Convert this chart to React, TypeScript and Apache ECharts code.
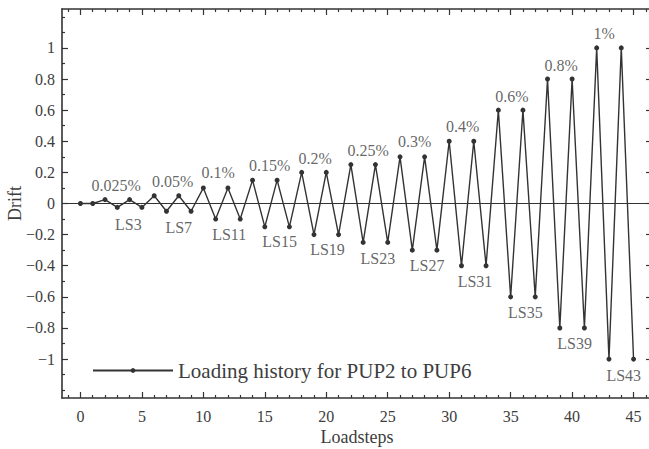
import React, { useEffect, useRef } from "react";
import * as echarts from "echarts";

const loadsteps = [
  0, 1, 2, 3, 4, 5, 6, 7, 8, 9, 10, 11, 12, 13, 14, 15, 16, 17, 18, 19, 20, 21, 22,
  23, 24, 25, 26, 27, 28, 29, 30, 31, 32, 33, 34, 35, 36, 37, 38, 39, 40, 41, 42, 43, 44, 45,
];
const drift = [
  0, 0, 0.025, -0.025, 0.025, -0.025, 0.05, -0.05, 0.05, -0.05, 0.1, -0.1, 0.1, -0.1,
  0.15, -0.15, 0.15, -0.15, 0.2, -0.2, 0.2, -0.2, 0.25, -0.25, 0.25, -0.25, 0.3, -0.3,
  0.3, -0.3, 0.4, -0.4, 0.4, -0.4, 0.6, -0.6, 0.6, -0.6, 0.8, -0.8, 0.8, -0.8, 1, -1, 1, -1,
];

const pctLabels = ["0.025%", "0.05%", "0.1%", "0.15%", "0.2%", "0.25%", "0.3%", "0.4%", "0.6%", "0.8%", "1%"];
const pctX = [2.9, 7.5, 11.2, 15.4, 19.1, 23.4, 27.2, 31.1, 35.1, 39.1, 42.6];
const pctY = [0.118, 0.139, 0.197, 0.246, 0.289, 0.343, 0.396, 0.497, 0.69, 0.889, 1.093];

const lsLabels = ["LS3", "LS7", "LS11", "LS15", "LS19", "LS23", "LS27", "LS31", "LS35", "LS39", "LS43"];
const lsX = [3.9, 8.0, 12.1, 16.2, 20.1, 24.2, 28.2, 32.1, 36.2, 40.2, 44.2];
const lsY = [-0.133, -0.154, -0.2, -0.247, -0.294, -0.353, -0.396, -0.5, -0.7, -0.9, -1.103];

const xMajor = [0, 5, 10, 15, 20, 25, 30, 35, 40, 45];
const xMinor = [
  -1, 1, 2, 3, 4, 6, 7, 8, 9, 11, 12, 13, 14, 16, 17, 18, 19, 21, 22, 23, 24, 26, 27, 28, 29,
  31, 32, 33, 34, 36, 37, 38, 39, 41, 42, 43, 44, 46,
];
const yMajor = [-1, -0.8, -0.6, -0.4, -0.2, 0, 0.2, 0.4, 0.6, 0.8, 1];
const yMinor = [-1.2, -1.1, -0.9, -0.7, -0.5, -0.3, -0.1, 0.1, 0.3, 0.5, 0.7, 0.9, 1.1, 1.2];

const seriesName = "Loading history for PUP2 to PUP6";

const FONT = "'Liberation Serif', 'Times New Roman', serif";
const LINE = "#333333";
const TEXT = "#3d3d3d";

export default function App() {
  const ref = useRef<HTMLDivElement>(null);

  useEffect(() => {
    document.body.style.margin = "0";
    if (!ref.current) return;
    const chart = echarts.init(ref.current, null, { renderer: "svg" });

    const X_MIN = -1.5;
    const X_MAX = 46.5;
    const Y_MIN = -1.25;
    const Y_MAX = 1.25;

    const gridBox = {
      left: 62,
      top: 9,
      bottom: 51,
      right: -3,
      containLabel: false,
      outerBoundsMode: "none",
    };

    const fmtY = (v: number) => {
      if (v === 0) return "0";
      const s = String(Math.abs(v));
      return (v < 0 ? "\u2212" : "") + s;
    };

    const mkX = (gridIndex: number, position: string, major: boolean, main: boolean) => ({
      type: "value",
      gridIndex,
      position,
      min: X_MIN,
      max: X_MAX,
      axisLine: { show: major, onZero: false, lineStyle: { color: LINE, width: 1.6 } },
      axisTick: {
        show: true,
        inside: true,
        length: major ? 6 : 3,
        customValues: major ? xMajor : xMinor,
        lineStyle: { color: LINE, width: 1.2 },
      },
      axisLabel: main
        ? {
            show: true,
            customValues: xMajor,
            margin: 10,
            color: TEXT,
            fontSize: 16,
            fontFamily: FONT,
          }
        : { show: false },
      splitLine: { show: false },
      name: main ? "Loadsteps" : "",
      nameLocation: "middle",
      nameGap: 30,
      nameMoveOverlap: false,
      nameTextStyle: { color: TEXT, fontSize: 18, fontFamily: FONT },
    });

    const mkY = (gridIndex: number, position: string, major: boolean, main: boolean) => ({
      type: "value",
      gridIndex,
      position,
      min: Y_MIN,
      max: Y_MAX,
      axisLine: { show: major, onZero: false, lineStyle: { color: LINE, width: 1.6 } },
      axisTick: {
        show: true,
        inside: true,
        length: major ? 6 : 3,
        customValues: major ? yMajor : yMinor,
        lineStyle: { color: LINE, width: 1.2 },
      },
      axisLabel: main
        ? {
            show: true,
            customValues: yMajor,
            margin: 7,
            color: TEXT,
            fontSize: 16,
            fontFamily: FONT,
            formatter: fmtY,
          }
        : { show: false },
      splitLine: { show: false },
      name: main ? "Drift" : "",
      nameLocation: "middle",
      nameGap: 38,
      nameMoveOverlap: false,
      nameRotate: 90,
      nameTextStyle: { color: TEXT, fontSize: 18, fontFamily: FONT },
    });

    const lineData = loadsteps.map((x, i) => [x, drift[i]]);
    const pctData = pctX.map((x, i) => [x, pctY[i], pctLabels[i]]);
    const lsData = lsX.map((x, i) => [x, lsY[i], lsLabels[i]]);

    const labelSeries = (name: string, data: any[]) => ({
      type: "scatter",
      name,
      xAxisIndex: 0,
      yAxisIndex: 0,
      data,
      symbolSize: 1,
      itemStyle: { color: "transparent" },
      silent: true,
      label: {
        show: true,
        position: "inside",
        formatter: (p: any) => p.value[2],
        color: TEXT,
        fontSize: 16,
        fontFamily: FONT,
      },
      z: 5,
    });

    chart.setOption({
      animation: false,
      backgroundColor: "#ffffff",
      textStyle: { fontFamily: FONT },
      grid: [{ ...gridBox }, { ...gridBox }],
      xAxis: [
        mkX(0, "bottom", true, true),
        mkX(0, "top", true, false),
        mkX(1, "bottom", false, false),
        mkX(1, "top", false, false),
      ],
      yAxis: [
        mkY(0, "left", true, true),
        mkY(0, "right", true, false),
        mkY(1, "left", false, false),
        mkY(1, "right", false, false),
      ],
      legend: {
        data: [seriesName],
        left: 92,
        top: 360,
        padding: 0,
        itemWidth: 80,
        itemHeight: 6,
        textStyle: { color: TEXT, fontSize: 21, fontFamily: FONT },
        lineStyle: { width: 2 },
        selectedMode: false,
      },
      series: [
        {
          type: "line",
          name: seriesName,
          xAxisIndex: 0,
          yAxisIndex: 0,
          data: lineData,
          symbol: "circle",
          symbolSize: 5,
          showSymbol: true,
          lineStyle: { color: LINE, width: 1.4 },
          itemStyle: { color: LINE },
          markLine: {
            silent: true,
            symbol: ["none", "none"],
            label: { show: false },
            lineStyle: { color: LINE, width: 1, type: "solid" },
            data: [{ yAxis: 0 }],
          },
          z: 3,
        },
        labelSeries("pct", pctData),
        labelSeries("ls", lsData),
      ],
    });

    return () => chart.dispose();
  }, []);

  return <div ref={ref} style={{ width: 649, height: 449 }} />;
}
